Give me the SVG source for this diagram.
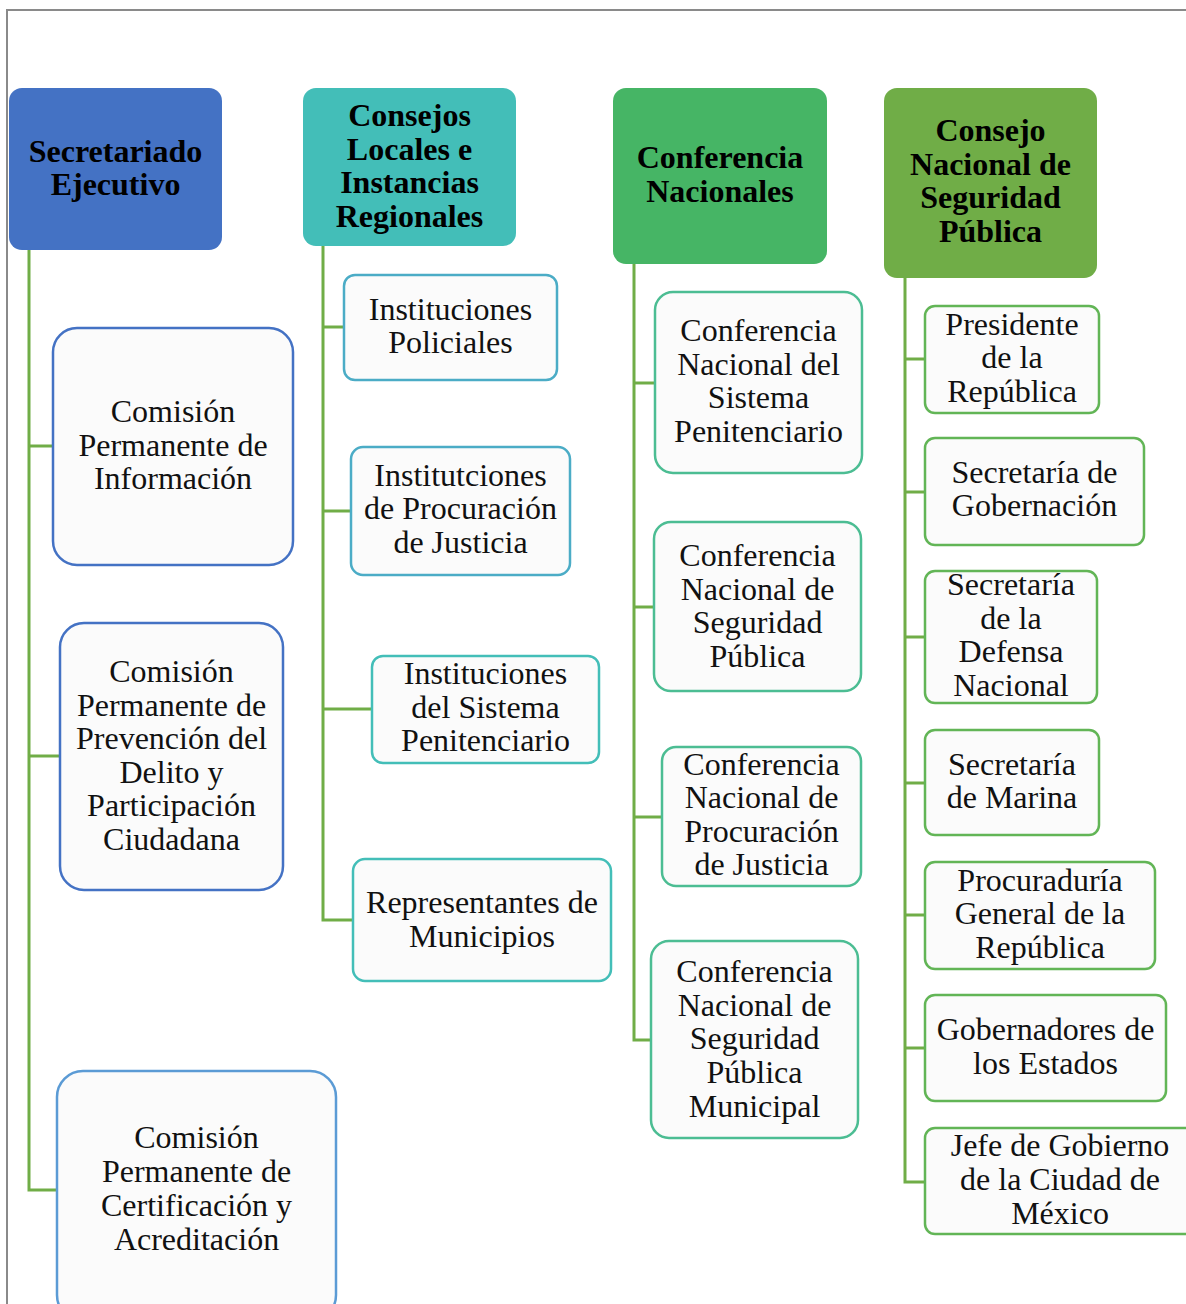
<svg xmlns="http://www.w3.org/2000/svg" width="1186" height="1304" viewBox="0 0 1186 1304">
<rect width="1186" height="1304" fill="#fff"/>
<path d="M7,1304 V10 H1186" fill="none" stroke="#8a8a8a" stroke-width="2"/>

<g id="connectors" fill="none" stroke="#70AD47" stroke-width="3">
<path d="M29,250 V1190 H57"/><path d="M29,446 H53"/><path d="M29,756 H60"/>
<path d="M323,246 V920 H353"/><path d="M323,327 H344"/><path d="M323,511 H351"/><path d="M323,709 H372"/>
<path d="M634,264 V1040 H651"/><path d="M634,383 H655"/><path d="M634,607 H654"/><path d="M634,817 H662"/>
<path d="M905,278 V1182 H925"/><path d="M905,359 H925"/><path d="M905,492 H925"/><path d="M905,637 H925"/><path d="M905,783 H925"/><path d="M905,915 H925"/><path d="M905,1048 H925"/>
</g>

<g text-anchor="middle" fill="#000">
<g id="h1"><rect x="9" y="88" width="213" height="162" rx="13" fill="#4472C4"/>
<text font-family="Liberation Serif" font-size="32" font-weight="bold" x="115.5" y="162">Secretariado</text><text font-family="Liberation Serif" font-size="32" font-weight="bold" x="115.5" y="195">Ejecutivo</text></g>
<g id="h2"><rect x="303" y="88" width="213" height="158" rx="13" fill="#43BEB8"/>
<text font-family="Liberation Serif" font-size="32" font-weight="bold" x="409.5" y="126">Consejos</text><text font-family="Liberation Serif" font-size="32" font-weight="bold" x="409.5" y="159.5">Locales e</text><text font-family="Liberation Serif" font-size="32" font-weight="bold" x="409.5" y="193">Instancias</text><text font-family="Liberation Serif" font-size="32" font-weight="bold" x="409.5" y="226.5">Regionales</text></g>
<g id="h3"><rect x="613" y="88" width="214" height="176" rx="13" fill="#46B565"/>
<text font-family="Liberation Serif" font-size="32" font-weight="bold" x="720" y="168">Conferencia</text><text font-family="Liberation Serif" font-size="32" font-weight="bold" x="720" y="202">Nacionales</text></g>
<g id="h4"><rect x="884" y="88" width="213" height="190" rx="13" fill="#70AD47"/>
<text font-family="Liberation Serif" font-size="32" font-weight="bold" x="990.5" y="141">Consejo</text><text font-family="Liberation Serif" font-size="32" font-weight="bold" x="990.5" y="175">Nacional de</text><text font-family="Liberation Serif" font-size="32" font-weight="bold" x="990.5" y="208">Seguridad</text><text font-family="Liberation Serif" font-size="32" font-weight="bold" x="990.5" y="242">Pública</text></g>
</g>

<g text-anchor="middle" fill="#111">
<g id="a1"><rect x="53" y="328" width="240" height="237" rx="24" fill="#fbfbfb" stroke="#4472C4" stroke-width="2.5"/>
<text font-family="Liberation Serif" font-size="32" x="173" y="422">Comisión</text><text font-family="Liberation Serif" font-size="32" x="173" y="456">Permanente de</text><text font-family="Liberation Serif" font-size="32" x="173" y="489">Información</text></g>
<g id="a2"><rect x="60" y="623" width="223" height="267" rx="24" fill="#fbfbfb" stroke="#4472C4" stroke-width="2.5"/>
<text font-family="Liberation Serif" font-size="32" x="171.5" y="682">Comisión</text><text font-family="Liberation Serif" font-size="32" x="171.5" y="715.5">Permanente de</text><text font-family="Liberation Serif" font-size="32" x="171.5" y="749">Prevención del</text><text font-family="Liberation Serif" font-size="32" x="171.5" y="782.5">Delito y</text><text font-family="Liberation Serif" font-size="32" x="171.5" y="816">Participación</text><text font-family="Liberation Serif" font-size="32" x="171.5" y="849.5">Ciudadana</text></g>
<g id="a3"><rect x="57" y="1071" width="279" height="250" rx="26" fill="#fbfbfb" stroke="#5B9BD5" stroke-width="2.5"/>
<text font-family="Liberation Serif" font-size="32" x="196.5" y="1148">Comisión</text><text font-family="Liberation Serif" font-size="32" x="196.5" y="1182">Permanente de</text><text font-family="Liberation Serif" font-size="32" x="196.5" y="1216">Certificación y</text><text font-family="Liberation Serif" font-size="32" x="196.5" y="1250">Acreditación</text></g>

<g id="b1"><rect x="344" y="275" width="213" height="105" rx="11" fill="#fbfbfb" stroke="#4BACC6" stroke-width="2.5"/>
<text font-family="Liberation Serif" font-size="32" x="450.5" y="320">Instituciones</text><text font-family="Liberation Serif" font-size="32" x="450.5" y="353">Policiales</text></g>
<g id="b2"><rect x="351" y="447" width="219" height="128" rx="12" fill="#fbfbfb" stroke="#4BACC6" stroke-width="2.5"/>
<text font-family="Liberation Serif" font-size="32" x="460.5" y="486">Institutciones</text><text font-family="Liberation Serif" font-size="32" x="460.5" y="519">de Procuración</text><text font-family="Liberation Serif" font-size="32" x="460.5" y="553">de Justicia</text></g>
<g id="b3"><rect x="372" y="656" width="227" height="107" rx="11" fill="#fbfbfb" stroke="#43BEB8" stroke-width="2.5"/>
<text font-family="Liberation Serif" font-size="32" x="485.5" y="684">Instituciones</text><text font-family="Liberation Serif" font-size="32" x="485.5" y="718">del Sistema</text><text font-family="Liberation Serif" font-size="32" x="485.5" y="751">Penitenciario</text></g>
<g id="b4"><rect x="353" y="859" width="258" height="122" rx="12" fill="#fbfbfb" stroke="#43BEB8" stroke-width="2.5"/>
<text font-family="Liberation Serif" font-size="32" x="482" y="913">Representantes de</text><text font-family="Liberation Serif" font-size="32" x="482" y="947">Municipios</text></g>

<g id="c1"><rect x="655" y="292" width="207" height="181" rx="18" fill="#fbfbfb" stroke="#4CBD93" stroke-width="2.5"/>
<text font-family="Liberation Serif" font-size="32" x="758.5" y="341">Conferencia</text><text font-family="Liberation Serif" font-size="32" x="758.5" y="375">Nacional del</text><text font-family="Liberation Serif" font-size="32" x="758.5" y="408">Sistema</text><text font-family="Liberation Serif" font-size="32" x="758.5" y="442">Penitenciario</text></g>
<g id="c2"><rect x="654" y="522" width="207" height="169" rx="17" fill="#fbfbfb" stroke="#4CBD93" stroke-width="2.5"/>
<text font-family="Liberation Serif" font-size="32" x="757.5" y="566">Conferencia</text><text font-family="Liberation Serif" font-size="32" x="757.5" y="600">Nacional de</text><text font-family="Liberation Serif" font-size="32" x="757.5" y="633">Seguridad</text><text font-family="Liberation Serif" font-size="32" x="757.5" y="667">Pública</text></g>
<g id="c3"><rect x="662" y="747" width="199" height="139" rx="14" fill="#fbfbfb" stroke="#4CBD93" stroke-width="2.5"/>
<text font-family="Liberation Serif" font-size="32" x="761.5" y="775">Conferencia</text><text font-family="Liberation Serif" font-size="32" x="761.5" y="808">Nacional de</text><text font-family="Liberation Serif" font-size="32" x="761.5" y="842">Procuración</text><text font-family="Liberation Serif" font-size="32" x="761.5" y="875">de Justicia</text></g>
<g id="c4"><rect x="651" y="941" width="207" height="197" rx="18" fill="#fbfbfb" stroke="#4CBD93" stroke-width="2.5"/>
<text font-family="Liberation Serif" font-size="32" x="754.5" y="982">Conferencia</text><text font-family="Liberation Serif" font-size="32" x="754.5" y="1016">Nacional de</text><text font-family="Liberation Serif" font-size="32" x="754.5" y="1049">Seguridad</text><text font-family="Liberation Serif" font-size="32" x="754.5" y="1083">Pública</text><text font-family="Liberation Serif" font-size="32" x="754.5" y="1117">Municipal</text></g>

<g id="d1"><rect x="925" y="306" width="174" height="107" rx="10" fill="#fbfbfb" stroke="#62B556" stroke-width="2.5"/>
<text font-family="Liberation Serif" font-size="32" x="1012" y="335">Presidente</text><text font-family="Liberation Serif" font-size="32" x="1012" y="368">de la</text><text font-family="Liberation Serif" font-size="32" x="1012" y="402">República</text></g>
<g id="d2"><rect x="925" y="438" width="219" height="107" rx="10" fill="#fbfbfb" stroke="#62B556" stroke-width="2.5"/>
<text font-family="Liberation Serif" font-size="32" x="1034.5" y="483">Secretaría de</text><text font-family="Liberation Serif" font-size="32" x="1034.5" y="516">Gobernación</text></g>
<g id="d3"><rect x="925" y="571" width="172" height="132" rx="10" fill="#fbfbfb" stroke="#62B556" stroke-width="2.5"/>
<text font-family="Liberation Serif" font-size="32" x="1011" y="595">Secretaría</text><text font-family="Liberation Serif" font-size="32" x="1011" y="629">de la</text><text font-family="Liberation Serif" font-size="32" x="1011" y="662">Defensa</text><text font-family="Liberation Serif" font-size="32" x="1011" y="696">Nacional</text></g>
<g id="d4"><rect x="925" y="730" width="174" height="105" rx="10" fill="#fbfbfb" stroke="#62B556" stroke-width="2.5"/>
<text font-family="Liberation Serif" font-size="32" x="1012" y="775">Secretaría</text><text font-family="Liberation Serif" font-size="32" x="1012" y="808">de Marina</text></g>
<g id="d5"><rect x="925" y="862" width="230" height="107" rx="10" fill="#fbfbfb" stroke="#62B556" stroke-width="2.5"/>
<text font-family="Liberation Serif" font-size="32" x="1040" y="891">Procuraduría</text><text font-family="Liberation Serif" font-size="32" x="1040" y="924">General de la</text><text font-family="Liberation Serif" font-size="32" x="1040" y="958">República</text></g>
<g id="d6"><rect x="925" y="995" width="241" height="106" rx="10" fill="#fbfbfb" stroke="#62B556" stroke-width="2.5"/>
<text font-family="Liberation Serif" font-size="32" x="1045.5" y="1040">Gobernadores de</text><text font-family="Liberation Serif" font-size="32" x="1045.5" y="1074">los Estados</text></g>
<g id="d7"><rect x="925" y="1128" width="280" height="106" rx="10" fill="#fbfbfb" stroke="#62B556" stroke-width="2.5"/>
<text font-family="Liberation Serif" font-size="32" x="1060" y="1156">Jefe de Gobierno</text><text font-family="Liberation Serif" font-size="32" x="1060" y="1190">de la Ciudad de</text><text font-family="Liberation Serif" font-size="32" x="1060" y="1224">México</text></g>
</g>
</svg>
